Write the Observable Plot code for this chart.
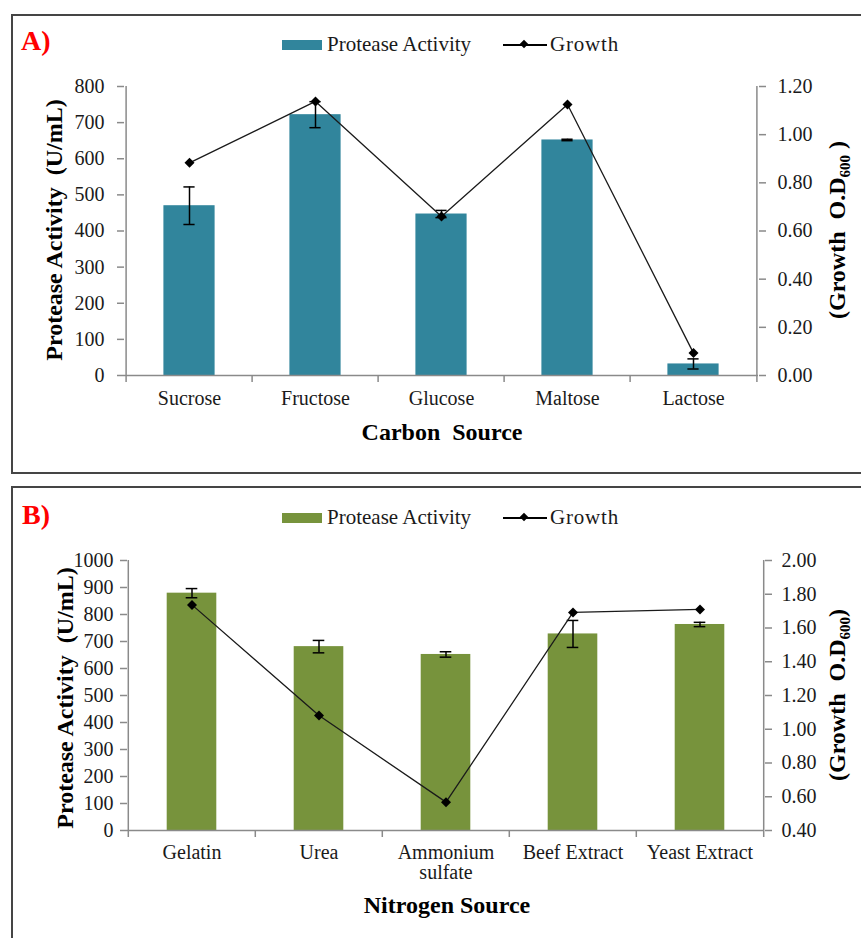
<!DOCTYPE html>
<html><head><meta charset="utf-8">
<script src="https://cdn.jsdelivr.net/npm/d3@7"></script>
<script src="https://cdn.jsdelivr.net/npm/@observablehq/plot@0.6"></script>
<style>
html,body{margin:0;padding:0;background:#fff;}
#wrap{position:relative;width:861px;height:938px;overflow:hidden;font-family:"Liberation Serif","Times New Roman",serif;color:#1a1a1a;}
.panel{position:absolute;border:2px solid #454545;box-sizing:border-box;}
.t{position:absolute;white-space:pre;line-height:1;}
.plotbox{position:absolute;left:0;}
.sw{position:absolute;}
</style></head><body><div id="wrap"></div>
<script>
// ---------- data ----------
const carbonSources = ["Sucrose", "Fructose", "Glucose", "Maltose", "Lactose"];
const carbonActivity = [470, 722, 447, 652, 32];
const carbonActivityErr = [52, 36, 10, 2, 14];
const carbonGrowth = [0.883, 1.138, 0.66, 1.125, 0.093];
const carbonActivityTicks = [0, 100, 200, 300, 400, 500, 600, 700, 800];
const carbonGrowthTicks = [0, 0.2, 0.4, 0.6, 0.8, 1.0, 1.2];

const nitrogenSources = ["Gelatin", "Urea", "Ammonium\nsulfate", "Beef Extract", "Yeast Extract"];
const nitrogenActivity = [879, 681, 652, 728, 763];
const nitrogenActivityErr = [17, 23, 10, 50, 8];
const nitrogenGrowth = [1.737, 1.081, 0.568, 1.692, 1.71];
const nitrogenActivityTicks = [0, 100, 200, 300, 400, 500, 600, 700, 800, 900, 1000];
const nitrogenGrowthTicks = [0.4, 0.6, 0.8, 1.0, 1.2, 1.4, 1.6, 1.8, 2.0];

const carbonColor = "#31859C";
const nitrogenColor = "#77933C";

// ---------- chart builder ----------
function panelPlot(cfg) {
  const W = 861;
  const {cats, act, err, growth, actTicks, gTicks, color, height, ml, mr, mt, mb, barW, capW, leftPad, rightPad} = cfg;
  const step = (W - ml - mr) / cats.length;
  const rows = cats.map((c, i) => ({cat: c, act: act[i], lo: act[i] - err[i], hi: act[i] + err[i], g: growth[i]}));
  const yMax = actTicks[actTicks.length - 1];
  const g2y = d3.scaleLinear([gTicks[0], gTicks[gTicks.length - 1]], [0, yMax]);
  const axisColor = "#8a8a8a";
  const barInset = (step - barW) / 2;
  const capInset = (step - capW) / 2;
  return Plot.plot({
    width: W, height,
    marginLeft: ml, marginRight: mr, marginTop: mt, marginBottom: mb,
    style: {fontFamily: '"Liberation Serif","Times New Roman",serif', fontSize: "20px", color: "#1a1a1a", background: "transparent", overflow: "visible"},
    x: {type: "band", domain: cats, padding: 0},
    y: {domain: [0, yMax]},
    marks: [
      Plot.barY(rows, {x: "cat", y: "act", fill: color, insetLeft: barInset, insetRight: barInset}),
      Plot.ruleY([0], {stroke: axisColor, strokeWidth: 1.5}),
      Plot.ruleX([cats[0]], {y1: 0, y2: yMax, dx: -step / 2, stroke: axisColor, strokeWidth: 1.5}),
      Plot.ruleX([cats[cats.length - 1]], {y1: 0, y2: yMax, dx: step / 2, stroke: axisColor, strokeWidth: 1.5}),
      Plot.axisX(cats, {tickSize: 7, tickFormat: () => "", dx: -step / 2, stroke: axisColor, strokeWidth: 1.5, label: null}),
      Plot.axisX([cats[cats.length - 1]], {tickSize: 7, tickFormat: () => "", dx: step / 2, stroke: axisColor, strokeWidth: 1.5, label: null}),
      Plot.axisX(cats, {tickSize: 0, tickPadding: cfg.xPad, label: null, fill: "#1a1a1a"}),
      Plot.axisY(actTicks, {tickSize: 7, tickPadding: leftPad, tickFormat: d => String(d), label: null, stroke: axisColor, strokeWidth: 1.5, fill: "#1a1a1a"}),
      Plot.axisY(gTicks, {anchor: "right", y: d => g2y(d), tickFormat: d => d.toFixed(2), tickSize: 7, tickPadding: rightPad, label: null, stroke: axisColor, strokeWidth: 1.5, fill: "#1a1a1a"}),
      Plot.ruleX(rows, {x: "cat", y1: "lo", y2: "hi", stroke: "#000", strokeWidth: 1.5}),
      Plot.tickY(rows, {x: "cat", y: "lo", stroke: "#000", strokeWidth: 1.5, insetLeft: capInset, insetRight: capInset}),
      Plot.tickY(rows, {x: "cat", y: "hi", stroke: "#000", strokeWidth: 1.5, insetLeft: capInset, insetRight: capInset}),
      Plot.line(rows, {x: "cat", y: d => g2y(d.g), stroke: "#1a1a1a", strokeWidth: 1.3}),
      Plot.dot(rows, {x: "cat", y: d => g2y(d.g), symbol: "diamond2", r: 4.5, fill: "#000", stroke: null})
    ]
  });
}

const wrap = document.getElementById("wrap");
function addDiv(cls, css, html) {
  const d = document.createElement("div");
  d.className = cls;
  d.style.cssText = css;
  if (html !== undefined) d.innerHTML = html;
  wrap.appendChild(d);
  return d;
}
function text(str, x, baseline, size, opts = {}) {
  const top = baseline - 0.8375 * size;
  const tr = opts.anchor === "middle" ? "transform:translateX(-50%);" : "";
  return addDiv("t", `left:${x}px;top:${top}px;font-size:${size}px;${opts.bold ? "font-weight:bold;" : ""}${opts.ls ? "letter-spacing:" + opts.ls + "px;" : ""}color:${opts.color || "#1a1a1a"};${tr}`, str);
}
function vtext(html, cx, cy, size) {
  return addDiv("t", `left:${cx}px;top:${cy}px;font-size:${size}px;font-weight:bold;color:#000;transform:translate(-50%,-50%) rotate(-90deg);`, html);
}
function legend(dy, color) {
  addDiv("sw", `left:282px;top:${40 + dy}px;width:40px;height:10px;background:${color};`);
  text("Protease Activity", 327, 52 + dy, 21);
  addDiv("sw", `left:503px;top:${44 + dy}px;width:44px;height:1.5px;background:#000;`);
  addDiv("sw", `left:521px;top:${41 + dy}px;width:6px;height:6px;background:#000;transform:rotate(45deg);`);
  text("Growth", 550, 52 + dy, 21, {ls: 0.8});
}

// panel frames
addDiv("panel", "left:11px;top:14px;width:900px;height:460px;");
addDiv("panel", "left:11px;top:486px;width:900px;height:600px;");

// panel A plot
const boxA = addDiv("plotbox", "top:0px;");
boxA.appendChild(panelPlot({
  cats: carbonSources, act: carbonActivity, err: carbonActivityErr, growth: carbonGrowth,
  actTicks: carbonActivityTicks, gTicks: carbonGrowthTicks, color: carbonColor,
  height: 470, ml: 124, mr: 103, mt: 86, mb: 95, barW: 52, capW: 12, leftPad: 13, rightPad: 12, xPad: 15
}));
// panel B plot
const boxB = addDiv("plotbox", "top:480px;");
boxB.appendChild(panelPlot({
  cats: nitrogenSources, act: nitrogenActivity, err: nitrogenActivityErr, growth: nitrogenGrowth,
  actTicks: nitrogenActivityTicks, gTicks: nitrogenGrowthTicks, color: nitrogenColor,
  height: 458, ml: 127, mr: 97, mt: 80, mb: 108, barW: 50, capW: 12, leftPad: 7, rightPad: 10, xPad: 14
}));

// panel A annotations
text("A)", 21, 50, 28, {bold: true, color: "#ff0000"});
legend(0, carbonColor);
text("Carbon&nbsp; Source", 442, 440, 24, {bold: true, anchor: "middle", color: "#000"});
vtext("Protease Activity&nbsp; (U/mL)", 54, 230, 24);
vtext('(Growth&nbsp; O.D<span style="font-size:15px;position:relative;top:5px">600</span> )', 837, 230, 24);

// panel B annotations
text("B)", 22, 524, 28, {bold: true, color: "#ff0000"});
legend(473, nitrogenColor);
text("Nitrogen Source", 447, 913, 24, {bold: true, anchor: "middle", color: "#000"});
vtext("Protease Activity&nbsp; (U/mL)", 65, 698, 24);
vtext('(Growth&nbsp; O.D<span style="font-size:15px;position:relative;top:5px">600</span>)', 837, 695, 24);
</script>
</body></html>
